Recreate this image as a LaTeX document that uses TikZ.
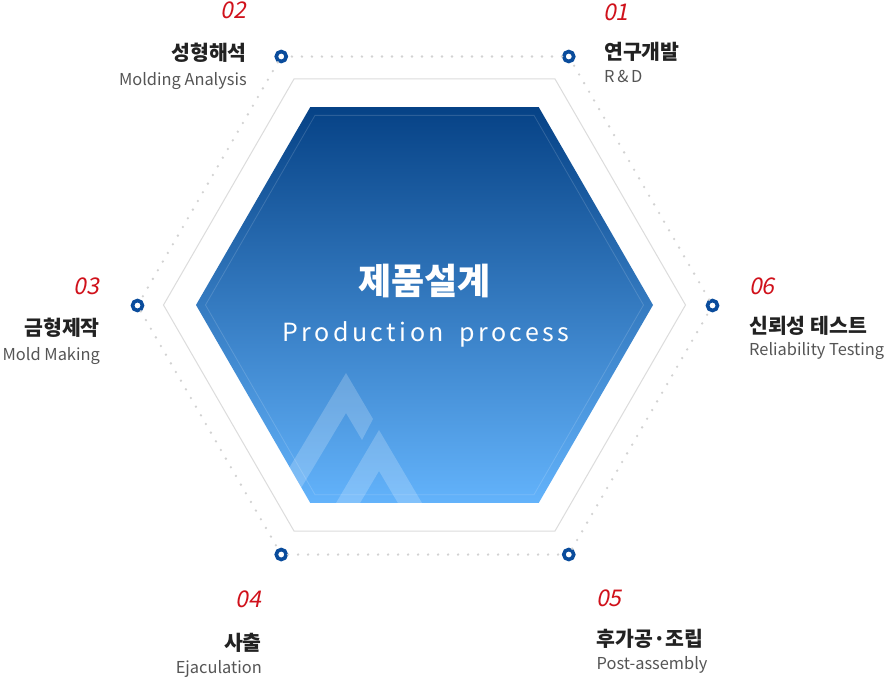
\documentclass[tikz,border=0pt]{standalone}
\usepackage{fontspec}
\setmainfont{Noto Sans CJK KR}
\newfontfamily\numfont[FakeSlant=0.2]{Noto Sans CJK KR}
\newfontfamily\spacedfont[LetterSpace=14]{Noto Sans CJK KR}
\definecolor{ringblue}{HTML}{0A4C9C}
\definecolor{numred}{HTML}{D0111B}
\definecolor{titlegray}{HTML}{222222}
\definecolor{subgray}{HTML}{555555}
\definecolor{dotgray}{HTML}{D2D2D2}
\definecolor{linegray}{HTML}{DCDCDC}
\definecolor{hextop}{HTML}{064286}
\definecolor{hexbot}{HTML}{63B3FB}
\newcommand{\hexpts}[1]{({424.5-#1},305) -- ({424.5-#1/2},{305-0.866*#1}) -- ({424.5+#1/2},{305-0.866*#1}) -- ({424.5+#1},305) -- ({424.5+#1/2},{305+0.866*#1}) -- ({424.5-#1/2},{305+0.866*#1}) -- cycle}
\tikzset{
  ring/.style={circle, draw=ringblue, line width=3.6pt, fill=white, minimum size=10pt, inner sep=0pt},
  dotline/.style={draw=dotgray, line width=2.6pt, line cap=round, dash pattern=on 0pt off 10pt},
  numlabel/.style={inner sep=0pt, text=numred, font=\numfont\fontsize{23}{23}\selectfont},
  titlelabel/.style={inner sep=0pt, text=titlegray, font=\bfseries\fontsize{20.5}{20.5}\selectfont},
  sublabel/.style={inner sep=0pt, text=subgray, font=\fontsize{16.4}{16.4}\selectfont},
}
\begin{document}
\begin{tikzpicture}[x=1pt,y=-1pt]
\useasboundingbox[fill=white] (0,0) rectangle (886,681);
% outer gray hexagon
\draw[linegray, line width=1pt] \hexpts{261};
% blue hexagon
\shade[top color=hextop, bottom color=hexbot] \hexpts{228.5};
\begin{scope}
  \clip \hexpts{228.5};
  \fill[white, opacity=0.2] (346,373) -- (373,419) -- (362,440) -- (346,413) -- (282,520) -- (258,520) -- cycle;
  \fill[white, opacity=0.2] (379,430) -- (432,520) -- (408,520) -- (379,471) -- (350,520) -- (326,520) -- cycle;
\end{scope}
\draw[white, opacity=0.15, line width=0.8pt] \hexpts{219};
% centre text
\node[inner sep=0pt, anchor=base, text=white, font=\bfseries\fontsize{36}{36}\selectfont] (ctitle) at (424.5,294) {제품설계};
\node[inner sep=0pt, anchor=base, text=white, font=\spacedfont\fontsize{25}{25}\selectfont] (csub) at (426,341.5) {Production\hspace{15pt}process};
% ring markers
\node[ring] (p1) at (568.75,56.5) {};
\node[ring] (p2) at (281.25,56.5) {};
\node[ring] (p3) at (137.5,305.5) {};
\node[ring] (p4) at (281.25,554.5) {};
\node[ring] (p5) at (568.75,554.5) {};
\node[ring] (p6) at (712.5,305.5) {};
\draw[dotline] (p1) -- (p2);
\draw[dotline] (p2) -- (p3);
\draw[dotline] (p3) -- (p4);
\draw[dotline] (p4) -- (p5);
\draw[dotline] (p5) -- (p6);
\draw[dotline] (p6) -- (p1);
% labels 01
\node[numlabel, anchor=base west] (n1) at (603,20) {01};
\node[titlelabel, anchor=base west] (t1) at (604,59) {연구개발};
\node[sublabel, anchor=base west] (s1) at (604,82.5) {R\,\&\,D};
% 02
\node[numlabel, anchor=base east] (n2) at (246,18.5) {02};
\node[titlelabel, anchor=base east] (t2) at (247,60) {성형해석};
\node[sublabel, anchor=base east] (s2) at (247,85.5) {Molding Analysis};
% 03
\node[numlabel, anchor=base east] (n3) at (99,294) {03};
\node[titlelabel, anchor=base east] (t3) at (100,335) {금형제작};
\node[sublabel, anchor=base east] (s3) at (100,360.5) {Mold Making};
% 06
\node[numlabel, anchor=base west] (n6) at (749,294) {06};
\node[titlelabel, anchor=base west] (t6) at (749,333.5) {신뢰성 테스트};
\node[sublabel, anchor=base west] (s6) at (749,355.5) {Reliability Testing};
% 04
\node[numlabel, anchor=base east] (n4) at (261,607) {04};
\node[titlelabel, anchor=base east] (t4) at (262,650) {사출};
\node[sublabel, anchor=base east] (s4) at (262,673) {Ejaculation};
% 05
\node[numlabel, anchor=base west] (n5) at (596,606.5) {05};
\node[titlelabel, anchor=base west] (t5) at (596.5,646.5) {후가공·조립};
\node[sublabel, anchor=base west] (s5) at (596.5,669.5) {Post-assembly};
\end{tikzpicture}
\end{document}
